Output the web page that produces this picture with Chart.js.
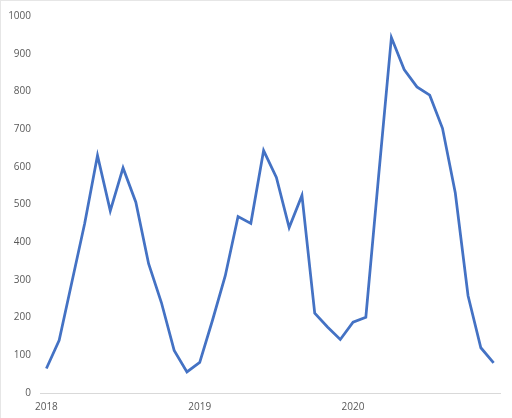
<!DOCTYPE html>
<html lang="en">
<head>
    <meta charset="UTF-8">
    <title>Monthly values 2018-2020</title>
    <script src="https://cdn.jsdelivr.net/npm/chart.js"></script>
    <style>
        html, body {
            margin: 0;
            padding: 0;
            background: #ffffff;
        }
        #chartContainer {
            width: 512px;
            height: 418px;
            box-sizing: border-box;
            border-top: 1px solid #e6e6e6;
            border-left: 1px solid #e6e6e6;
        }
    </style>
</head>
<body>
    <div id="chartContainer">
        <canvas id="myChart"></canvas>
    </div>

    <script>
        // months Jan 2018 .. Dec 2020, only January gets the year label
        const years = ['2018', '2019', '2020'];
        const months = ['Jan', 'Feb', 'Mar', 'Apr', 'May', 'Jun', 'Jul', 'Aug', 'Sep', 'Oct', 'Nov', 'Dec'];

        const values2018 = [65, 140, 295, 450, 630, 483, 597, 506, 343, 240, 113, 56];
        const values2019 = [81, 193, 311, 468, 450, 643, 572, 439, 524, 212, 175, 142];
        const values2020 = [188, 201, 575, 943, 858, 812, 790, 702, 531, 258, 120, 80];

        const yTicks = [0, 100, 200, 300, 400, 500, 600, 700, 800, 900, 1000];

        const labels = [];
        years.forEach(y => months.forEach(m => labels.push(m + ' ' + y)));
        const values = values2018.concat(values2019, values2020);

        const tickFont = { family: '"Open Sans", sans-serif', size: 10 };
        const textColor = '#595959';

        const ctx = document.getElementById('myChart').getContext('2d');
        new Chart(ctx, {
            type: 'line',
            data: {
                labels: labels,
                datasets: [{
                    data: values,
                    borderColor: '#4472c4',
                    borderWidth: 2.75,
                    pointRadius: 0,
                    tension: 0,
                    fill: false
                }]
            },
            options: {
                responsive: true,
                maintainAspectRatio: false,
                animation: false,
                layout: { padding: { top: 13, right: 12, bottom: 0, left: 0 } },
                plugins: {
                    legend: { display: false },
                    tooltip: { enabled: false }
                },
                scales: {
                    x: {
                        offset: true,
                        grid: { display: false, drawTicks: false },
                        border: { display: true, color: '#d9d9d9', width: 1 },
                        ticks: {
                            autoSkip: false,
                            maxRotation: 0,
                            padding: 8,
                            color: textColor,
                            font: tickFont,
                            callback: (val, i) => (i % 12 === 0 ? years[i / 12] : '')
                        },
                        afterFit: scale => { scale.height = 25; }
                    },
                    y: {
                        min: 0,
                        max: 1000,
                        afterBuildTicks: scale => {
                            scale.ticks = yTicks.map(v => ({ value: v }));
                        },
                        grid: { display: false, drawTicks: false },
                        border: { display: false },
                        ticks: {
                            padding: 9,
                            color: textColor,
                            font: tickFont,
                            callback: v => String(v)
                        },
                        afterFit: scale => { scale.width = 39; }
                    }
                }
            }
        });
    </script>
</body>
</html>
